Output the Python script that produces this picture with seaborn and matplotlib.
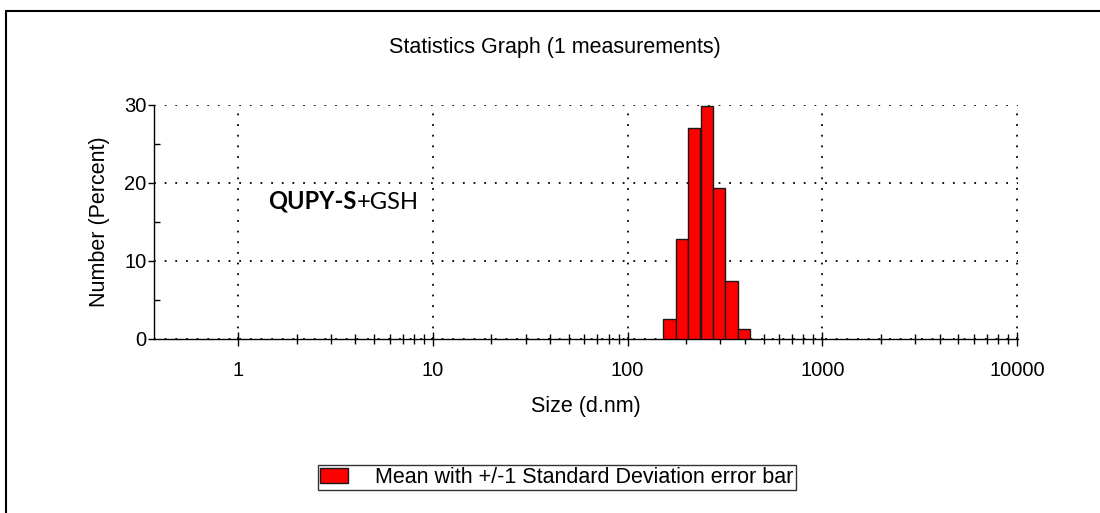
import matplotlib
matplotlib.use("Agg")
import matplotlib.pyplot as plt
from matplotlib.lines import Line2D
from matplotlib.ticker import NullFormatter, FixedLocator
import seaborn as sns
import pandas as pd

# ---- data ----
sizes = [164.2, 190.1, 220.2, 255.0, 295.3, 342.0, 396.1]      # d.nm (class centres)
number_pct = [2.6, 12.8, 27.0, 29.9, 19.3, 7.4, 1.3]           # Number (Percent)
x_ticks = [1, 10, 100, 1000, 10000]
x_tick_labels = ["1", "10", "100", "1000", "10000"]
y_ticks = [0, 10, 20, 30]
y_minor_ticks = [5, 15, 25]
title = "Statistics Graph (1 measurements)"
legend_label = "Mean with +/-1 Standard Deviation error bar"
sample_bold = "QUPY-S"
sample_rest = "+GSH"

sns.set_theme(style="white")
plt.rcParams["font.family"] = ["Liberation Sans", "DejaVu Sans"]

df = pd.DataFrame({"size": sizes, "pct": number_pct})

fig = plt.figure(figsize=(11, 5.13), dpi=100)
ax = fig.add_axes([154 / 1100, 1 - 339 / 513, (1018 - 154) / 1100, (339 - 105) / 513])

sns.barplot(data=df, x="size", y="pct", native_scale=True, log_scale=(True, False),
            width=1, color="#ff0000", saturation=1, edgecolor="#1a1a1a",
            linewidth=1.0, errorbar=None, label=legend_label, ax=ax)
if ax.get_legend() is not None:
    ax.get_legend().remove()

ax.set_xlim(0.37, 10120)
ax.set_ylim(0, 30)
ax.set_xticks(x_ticks, labels=x_tick_labels)
minor_x = [m * 10 ** k for k in range(0, 4) for m in range(2, 10)]
ax.xaxis.set_minor_locator(FixedLocator(minor_x))
ax.xaxis.set_minor_formatter(NullFormatter())
ax.set_yticks(y_ticks)
ax.set_yticks(y_minor_ticks, minor=True)

for s in ["top", "right"]:
    ax.spines[s].set_visible(False)
for s in ["left", "bottom"]:
    ax.spines[s].set_color("black")
    ax.spines[s].set_linewidth(1.0)

ax.tick_params(axis="x", which="major", direction="inout", length=10, width=1.0,
               color="black", pad=10.5, labelsize=14.5, labelcolor="black", bottom=True)
ax.tick_params(axis="x", which="minor", direction="inout", length=7, width=1.0,
               color="black", bottom=True)
ax.tick_params(axis="y", which="major", direction="out", length=4, width=1.0,
               color="black", pad=1.5, labelsize=14.5, labelcolor="black", left=True)
ax.tick_params(axis="y", which="minor", direction="in", length=4.5, width=1.0,
               color="black", left=True)

ax.grid(True, which="major", axis="both", color="black", linestyle=(0, (1, 4.9)),
        linewidth=1.3)
ax.set_axisbelow(False)
for b in ax.patches:
    b.set_zorder(3)

ax.set_xlabel("Size (d.nm)", fontsize=15.5, color="black", labelpad=12)
ax.set_ylabel("Number (Percent)", fontsize=15.5, color="black", labelpad=10)

# sample annotation
t1 = ax.text(0.132, 0.54, sample_bold, transform=ax.transAxes, fontsize=17,
             fontweight="bold", family=["Lato", "DejaVu Sans"], color="black",
             ha="left", va="bottom", zorder=5)
ax.annotate(sample_rest, xy=(1, 0), xycoords=t1, fontsize=17,
            family=["Lato", "DejaVu Sans"], color="black", ha="left", va="bottom",
            zorder=5)

fig.text(555 / 1100, 1 - 48 / 513, title, ha="center", va="center", fontsize=15.5,
         color="black")

handles, labels = ax.get_legend_handles_labels()
leg = fig.legend(handles, labels, loc="center", bbox_to_anchor=(557 / 1100, 1 - 477.5 / 513),
                 fontsize=15.5, frameon=True, fancybox=False, edgecolor="black",
                 handlelength=1.3, handleheight=0.65, handletextpad=1.25,
                 borderpad=0.1, borderaxespad=0)
leg.get_frame().set_linewidth(1.0)
for txt in leg.get_texts():
    txt.set_color("black")

# outer frame lines (top and left)
fig.add_artist(Line2D([6 / 1100, 1], [1 - 11 / 513, 1 - 11 / 513], color="black",
                      linewidth=1.5, transform=fig.transFigure))
fig.add_artist(Line2D([6 / 1100, 6 / 1100], [0, 1 - 11 / 513], color="black",
                      linewidth=1.5, transform=fig.transFigure))

fig.savefig("out.png", dpi=100)
